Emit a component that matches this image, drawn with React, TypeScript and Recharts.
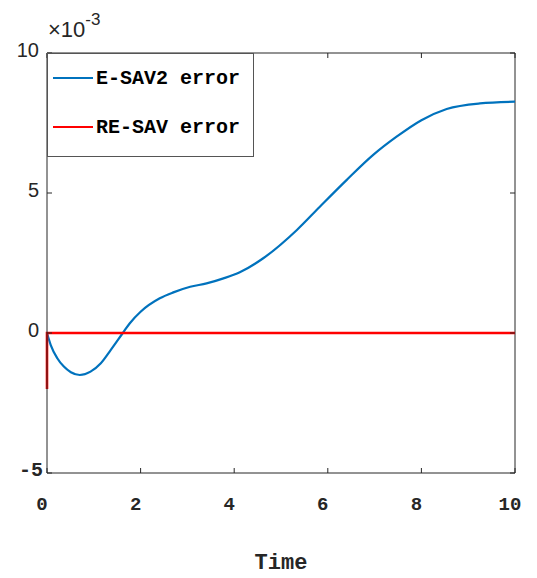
import { LineChart, Line, XAxis, YAxis, ReferenceLine, Legend } from "recharts";

// error values are in units of 1e-3
const esavTime = [
  0, 0.08, 0.22, 0.36, 0.51, 0.7, 0.93, 1.15, 1.36, 1.62, 1.77, 2.0, 2.41, 2.7,
  3.06, 3.41, 3.77, 4.12, 4.62, 5.34, 5.83, 6.4, 6.97, 7.47, 8.0, 8.54, 9.25, 10,
];
const esavError = [
  0, -0.43, -0.9, -1.2, -1.4, -1.5, -1.38, -1.08, -0.61, 0, 0.35, 0.76, 1.24, 1.45,
  1.65, 1.77, 1.95, 2.17, 2.67, 3.68, 4.51, 5.46, 6.36, 7.01, 7.6, 8.0, 8.2, 8.26,
];
const resavTime = [0, 0, 10];
const resavError = [-2, 0, 0];

const xTicks = [0, 2, 4, 6, 8, 10];
const yTicks = [-5, 0, 5, 10];

const seriesNames = ["E-SAV2 error", "RE-SAV error"];
const seriesColors = ["#0072bd", "#ff0000"];

const esavData = esavTime.map((t, i) => ({ t, v: esavError[i] }));
const resavData = resavTime.map((t, i) => ({ t, v: resavError[i] }));

const AXIS = "#262626";
const MONO = '"Liberation Mono", "DejaVu Sans Mono", monospace';
const SANS = '"Liberation Sans", Arial, sans-serif';
const PLOT_W = 468;
const PLOT_H = 420;
const TICK = 5;

function XTick({ x, y, payload }: any) {
  return (
    <g>
      <line x1={x} y1={y} x2={x} y2={y - TICK} stroke={AXIS} />
      <line x1={x} y1={y - PLOT_H} x2={x} y2={y - PLOT_H + TICK} stroke={AXIS} />
      <text
        x={x - 5}
        y={y + 32}
        textAnchor="middle"
        dominantBaseline="central"
        fontFamily={MONO}
        fontWeight="bold"
        fontSize={19}
        fill={AXIS}
      >
        {payload.value}
      </text>
    </g>
  );
}

function YTick({ x, y, payload }: any) {
  const neg = payload.value < 0;
  return (
    <g>
      <line x1={x} y1={y} x2={x + TICK} y2={y} stroke={AXIS} />
      <line x1={x + PLOT_W} y1={y} x2={x + PLOT_W - TICK} y2={y} stroke={AXIS} />
      <text
        x={neg ? x - 4 : x - 8}
        y={y - 3}
        textAnchor="end"
        dominantBaseline="central"
        fontFamily={neg ? MONO : SANS}
        fontWeight={neg ? "bold" : "normal"}
        fontSize={neg ? 20 : 20}
        fill={AXIS}
      >
        {payload.value}
      </text>
    </g>
  );
}

function ExponentLabel({ viewBox }: any) {
  return (
    <text x={viewBox.x + 48} y={viewBox.y - 24} dominantBaseline="central" fontFamily={SANS} fontSize={22} fill={AXIS}>
      ×10
      <tspan dy={-10} fontSize={17}>
        -3
      </tspan>
    </text>
  );
}

function TimeLabel({ viewBox }: any) {
  return (
    <text
      x={viewBox.x + viewBox.width / 2}
      y={viewBox.y + 90}
      textAnchor="middle"
      dominantBaseline="central"
      fontFamily={MONO}
      fontWeight="bold"
      fontSize={22}
      fill={AXIS}
    >
      Time
    </text>
  );
}

function LegendBox() {
  return (
    <div
      style={{
        width: 207,
        height: 104,
        boxSizing: "border-box",
        border: "1px solid #555",
        background: "#fff",
        position: "relative",
      }}
    >
      {seriesNames.map((name, i) => (
        <div
          key={name}
          style={{
            position: "absolute",
            left: 5,
            top: 13 + i * 49,
            height: 22,
            display: "flex",
            alignItems: "center",
          }}
        >
          <span style={{ width: 40, borderTop: `2px solid ${seriesColors[i]}` }} />
          <span
            style={{
              marginLeft: 3,
              fontFamily: MONO,
              fontWeight: "bold",
              fontSize: 20,
              color: "#000",
              whiteSpace: "pre",
            }}
          >
            {name}
          </span>
        </div>
      ))}
    </div>
  );
}

export default function App() {
  return (
    <div style={{ position: "absolute", left: 0, top: 0, width: 537, height: 578, background: "#fff" }}>
      <LineChart width={537} height={578} margin={{ top: 53, right: 22, bottom: 75, left: 0 }}>
        <XAxis
          type="number"
          dataKey="t"
          domain={[0, 10]}
          ticks={xTicks}
          height={30}
          tickSize={0}
          tickMargin={0}
          tickLine={false}
          axisLine={{ stroke: AXIS }}
          tick={<XTick />}
          label={<TimeLabel />}
          allowDuplicatedCategory
        />
        <YAxis
          type="number"
          dataKey="v"
          domain={[-5, 10]}
          ticks={yTicks}
          width={47}
          tickSize={0}
          tickMargin={0}
          tickLine={false}
          axisLine={{ stroke: AXIS }}
          tick={<YTick />}
          label={<ExponentLabel />}
        />
        <ReferenceLine y={10} stroke={AXIS} />
        <ReferenceLine x={10} stroke={AXIS} />
        <Line
          data={esavData}
          dataKey="v"
          type="monotone"
          stroke={seriesColors[0]}
          strokeWidth={2.2}
          dot={false}
          isAnimationActive={false}
        />
        <Line
          data={resavData}
          dataKey="v"
          type="linear"
          stroke={seriesColors[1]}
          strokeWidth={2.6}
          dot={false}
          isAnimationActive={false}
        />
        <Legend
          layout="vertical"
          align="center"
          verticalAlign="middle"
          content={<LegendBox />}
          wrapperStyle={{ left: 47, top: 53, width: 207, height: 104 }}
        />
      </LineChart>
    </div>
  );
}
